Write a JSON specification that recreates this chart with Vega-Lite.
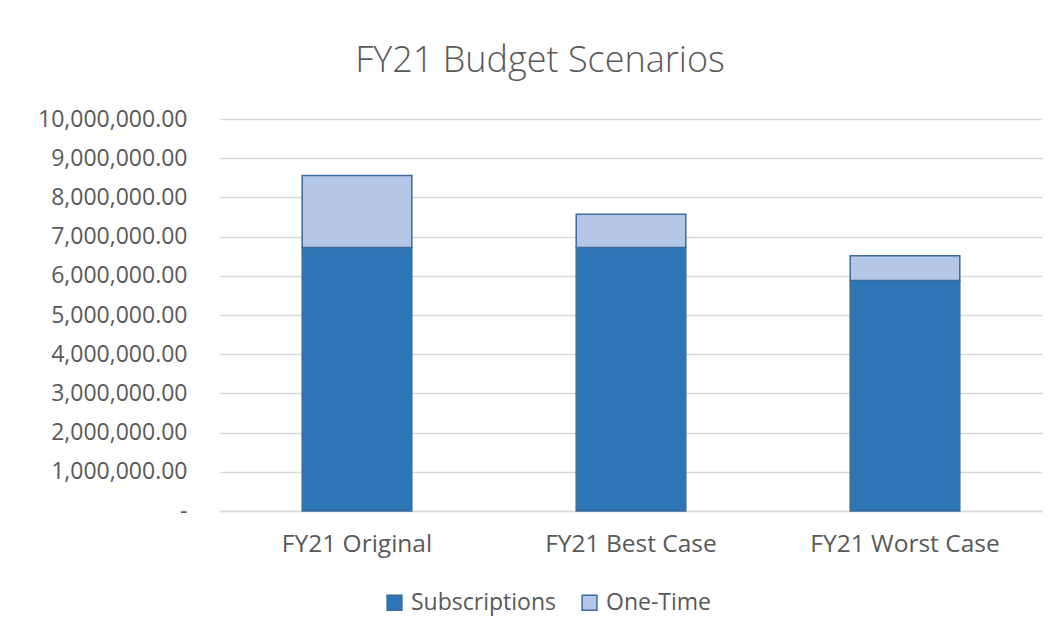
{
  "$schema": "https://vega.github.io/schema/vega-lite/v6.json",
  "width": 822,
  "height": 392,
  "autosize": {"type": "none"},
  "padding": {"left": 220, "top": 119, "right": 19, "bottom": 133},
  "background": "white",
  "title": {
    "text": "FY21 Budget Scenarios",
    "fontSize": 36,
    "font": "Open Sans",
    "fontWeight": 300,
    "color": "#595959",
    "anchor": "middle",
    "dx": -91,
    "offset": 28
  },
  "data": {
    "values": [
      {"scenario": "FY21 Original", "type": "Subscriptions", "order": 1, "amount": 6720000},
      {"scenario": "FY21 Original", "type": "One-Time", "order": 2, "amount": 1840000},
      {"scenario": "FY21 Best Case", "type": "Subscriptions", "order": 1, "amount": 6720000},
      {"scenario": "FY21 Best Case", "type": "One-Time", "order": 2, "amount": 850000},
      {"scenario": "FY21 Worst Case", "type": "Subscriptions", "order": 1, "amount": 5880000},
      {"scenario": "FY21 Worst Case", "type": "One-Time", "order": 2, "amount": 630000}
    ]
  },
  "mark": {"type": "bar", "stroke": "#3B6C9C", "strokeWidth": 1.5},
  "encoding": {
    "x": {
      "field": "scenario",
      "type": "nominal",
      "sort": ["FY21 Original", "FY21 Best Case", "FY21 Worst Case"],
      "scale": {"paddingInner": 0.6, "paddingOuter": 0.3},
      "axis": {
        "title": null,
        "labelAngle": 0,
        "ticks": false,
        "domain": true,
        "domainColor": "#D9D9D9",
        "domainWidth": 1.5,
        "labelPadding": 21,
        "labelFontSize": 24.5,
        "labelLimit": 400,
        "labelColor": "#595959",
        "labelFont": "Open Sans"
      }
    },
    "y": {
      "field": "amount",
      "type": "quantitative",
      "stack": "zero",
      "scale": {"domain": [0, 10000000]},
      "axis": {
        "title": null,
        "values": [0, 1000000, 2000000, 3000000, 4000000, 5000000, 6000000, 7000000, 8000000, 9000000, 10000000],
        "labelExpr": "datum.value == 0 ? '-' : format(datum.value, ',.2f')",
        "ticks": false,
        "domain": false,
        "gridColor": "#D9D9D9",
        "gridWidth": 1.5,
        "labelPadding": 33,
        "labelFontSize": 23,
        "labelColor": "#595959",
        "labelFont": "Open Sans",
        "encode": {"labels": {"update": {"dx": {"signal": "datum.value == 0 ? -10 : 0"}}}}
      }
    },
    "color": {
      "field": "type",
      "type": "nominal",
      "scale": {"domain": ["Subscriptions", "One-Time"], "range": ["#2E75B6", "#B4C7E7"]},
      "legend": {
        "title": null,
        "orient": "none",
        "direction": "horizontal",
        "legendX": 163,
        "legendY": 472,
        "symbolType": "square",
        "symbolSize": 220,
        "symbolStrokeColor": "#3B6C9C",
        "symbolStrokeWidth": 1.5,
        "symbolOpacity": 1,
        "labelFontSize": 23,
        "labelColor": "#595959",
        "labelFont": "Open Sans",
        "labelOffset": 5,
        "columnPadding": 22
      }
    },
    "order": {"field": "order", "type": "quantitative"}
  },
  "config": {"view": {"stroke": null}}
}
